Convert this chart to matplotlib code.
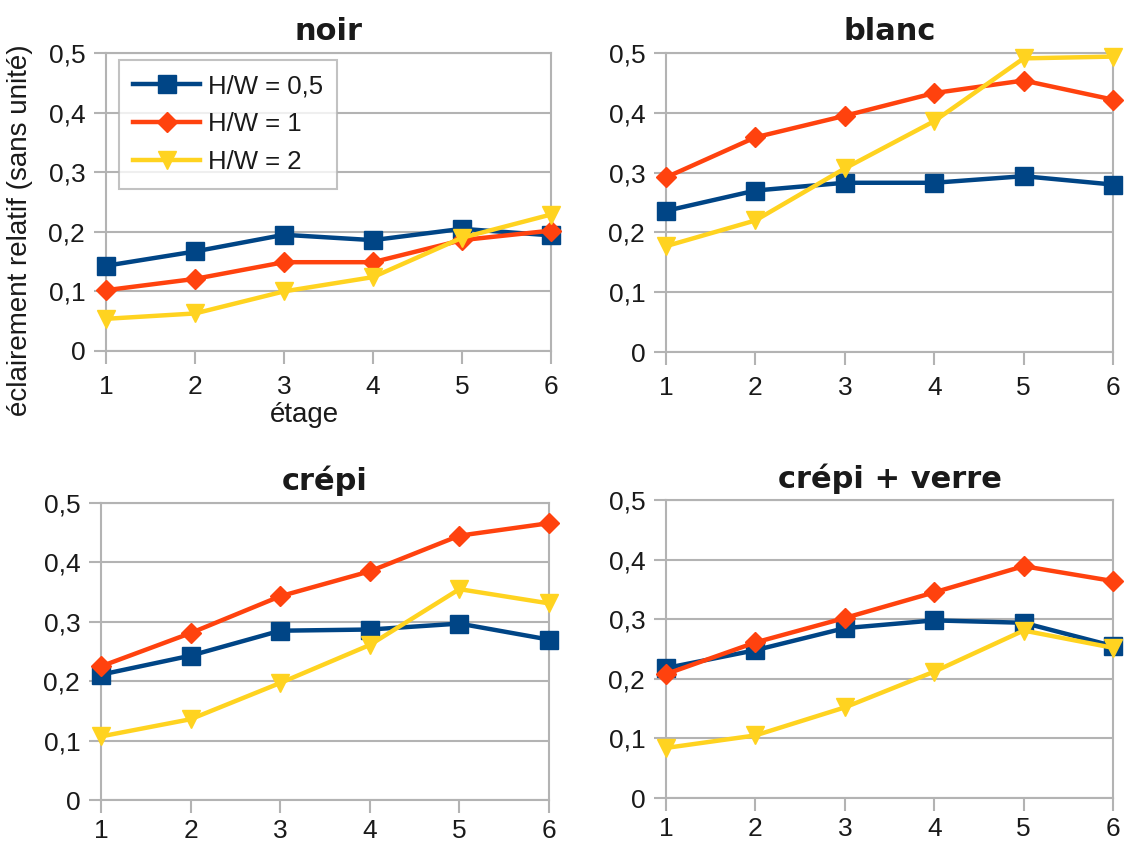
import matplotlib
matplotlib.use("Agg")
import matplotlib.pyplot as plt

etages = [1, 2, 3, 4, 5, 6]
series_labels = ["H/W = 0,5", "H/W = 1", "H/W = 2"]
panel_titles = ["noir", "blanc", "crépi", "crépi + verre"]
y_ticks = [0, 0.1, 0.2, 0.3, 0.4, 0.5]
y_tick_labels = ["0", "0,1", "0,2", "0,3", "0,4", "0,5"]

noir_hw05 = [0.143, 0.167, 0.195, 0.186, 0.205, 0.194]
noir_hw1 = [0.102, 0.121, 0.149, 0.149, 0.186, 0.202]
noir_hw2 = [0.054, 0.063, 0.100, 0.124, 0.190, 0.229]

blanc_hw05 = [0.236, 0.270, 0.283, 0.283, 0.294, 0.280]
blanc_hw1 = [0.292, 0.359, 0.395, 0.433, 0.454, 0.422]
blanc_hw2 = [0.177, 0.220, 0.307, 0.386, 0.491, 0.494]

crepi_hw05 = [0.211, 0.243, 0.285, 0.287, 0.297, 0.270]
crepi_hw1 = [0.225, 0.281, 0.343, 0.385, 0.445, 0.466]
crepi_hw2 = [0.107, 0.136, 0.197, 0.261, 0.355, 0.331]

verre_hw05 = [0.218, 0.248, 0.285, 0.298, 0.294, 0.255]
verre_hw1 = [0.208, 0.261, 0.302, 0.345, 0.389, 0.364]
verre_hw2 = [0.084, 0.105, 0.152, 0.212, 0.281, 0.252]

panels = [
    (noir_hw05, noir_hw1, noir_hw2),
    (blanc_hw05, blanc_hw1, blanc_hw2),
    (crepi_hw05, crepi_hw1, crepi_hw2),
    (verre_hw05, verre_hw1, verre_hw2),
]

colors = ["#004586", "#ff420e", "#ffd320"]
markers = ["s", "D", "v"]
msizes = [13, 10, 13]
zorders = [3, 4, 5]

W, H = 1124, 848
fig = plt.figure(figsize=(W / 100, H / 100), dpi=100)
fig.patch.set_facecolor("white")

# axes boxes in pixels: left, right, top, bottom
boxes = [
    (106, 551, 53, 351),
    (666, 1113, 53, 352),
    (101, 549, 503, 800),
    (666, 1113, 500, 798),
]

tick_font = {"family": ["Liberation Sans", "DejaVu Sans"], "size": 19}
grid_c = "#b3b3b3"

axes = []
for i, ((l, r, t, b), vals, title) in enumerate(zip(boxes, panels, panel_titles)):
    ax = fig.add_axes([l / W, 1 - b / H, (r - l) / W, (b - t) / H])
    axes.append(ax)
    for v, c, m, ms, z, lab in zip(vals, colors, markers, msizes, zorders, series_labels):
        ax.plot(etages, v, color=c, marker=m, markersize=ms, linewidth=3.2,
                label=lab, zorder=z, clip_on=False)
    ax.set_xlim(1, 6)
    ax.set_ylim(0, 0.5)
    ax.set_xticks(etages)
    ax.set_xticklabels([str(e) for e in etages], fontdict=tick_font)
    ax.set_yticks(y_ticks)
    ax.set_yticklabels(y_tick_labels, fontdict=tick_font)
    ax.yaxis.grid(True, color=grid_c, linewidth=1.5)
    ax.set_axisbelow(True)
    for s in ax.spines.values():
        s.set_color(grid_c)
        s.set_linewidth(1.5)
    ax.tick_params(axis="both", direction="out", length=9, width=1.5,
                   color=grid_c, labelcolor="#1a1a1a")
    ax.tick_params(axis="x", pad=8 if i < 2 else 5)
    ax.tick_params(axis="y", pad=6)
    ax.set_title(title, fontdict={"family": "DejaVu Sans", "weight": "bold", "size": 22},
                 pad=9, color="#1a1a1a")

leg = axes[0].legend(loc="upper left",
                     bbox_to_anchor=((119 - 106) / 445, 1 - (60 - 53) / 298),
                     borderaxespad=0, frameon=True, fancybox=False,
                     prop={"family": ["Liberation Sans", "DejaVu Sans"], "size": 18.5},
                     handlelength=2.6, handletextpad=0.3, labelspacing=0.55,
                     borderpad=0.55)
leg.get_frame().set_edgecolor(grid_c)
leg.get_frame().set_linewidth(1.5)
for txt in leg.get_texts():
    txt.set_color("#1a1a1a")

fig.text(20 / W, 1 - 230 / H, "éclairement relatif (sans unité)", rotation=90,
         ha="center", va="center", color="#1a1a1a",
         fontdict={"family": ["Liberation Sans", "DejaVu Sans"], "size": 20})
fig.text(304 / W, 1 - 415 / H, "étage", ha="center", va="center", color="#1a1a1a",
         fontdict={"family": ["Liberation Sans", "DejaVu Sans"], "size": 20})

fig.savefig("out.png", dpi=100)
